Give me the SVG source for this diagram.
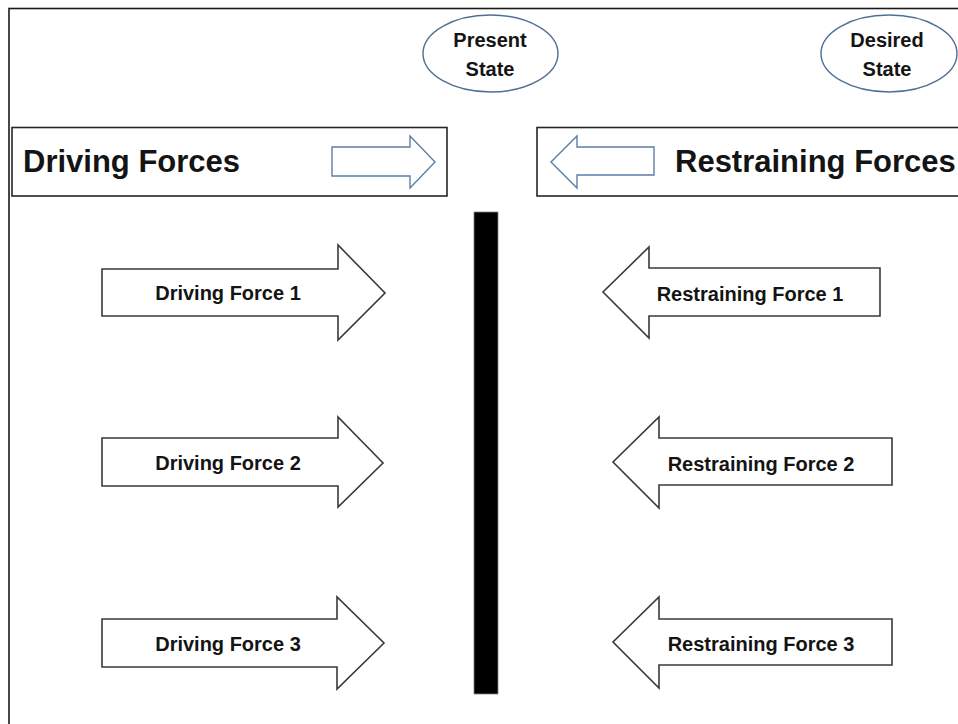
<svg xmlns="http://www.w3.org/2000/svg" width="958" height="724" viewBox="0 0 958 724">
  <style>
    .frame { fill: none; stroke: #1a1a1a; stroke-width: 1.6; }
    .box { fill: #ffffff; stroke: #262626; stroke-width: 1.6; }
    .state { fill: #ffffff; stroke: #4f6f94; stroke-width: 1.4; }
    .hint { fill: #ffffff; stroke: #5e7ea6; stroke-width: 1.4; stroke-linejoin: miter; }
    .force { fill: #ffffff; stroke: #3a3a3a; stroke-width: 1.6; stroke-linejoin: miter; }
    .bar { fill: #000000; stroke: #808080; stroke-width: 0.8; }
    text { font-family: "Liberation Sans", Arial, sans-serif; font-weight: bold; fill: #141414; }
    .head { font-size: 31px; }
    .lbl { font-size: 20px; text-anchor: middle; }
  </style>

  <rect width="958" height="724" fill="#ffffff"/>
  <!-- outer frame, open to the right and bottom -->
  <rect class="frame" x="9" y="8.5" width="1000" height="1000"/>

  <g id="present-state">
    <ellipse class="state" cx="490.5" cy="53.5" rx="67.5" ry="38.5"/>
    <text class="lbl" x="490" y="47">Present</text>
    <text class="lbl" x="490" y="76">State</text>
  </g>

  <g id="desired-state">
    <ellipse class="state" cx="889" cy="53.5" rx="68" ry="38.5"/>
    <text class="lbl" x="887" y="47">Desired</text>
    <text class="lbl" x="887" y="76">State</text>
  </g>

  <g id="driving-forces-header">
    <rect class="box" x="12" y="127.5" width="435" height="68.5"/>
    <text class="head" x="23" y="172">Driving Forces</text>
    <polygon class="hint" points="332,147 410,147 410,136 435,162 410,188 410,176 332,176"/>
  </g>

  <g id="restraining-forces-header">
    <rect class="box" x="537" y="127.5" width="480" height="68.5"/>
    <polygon class="hint" points="654,147 577,147 577,136 551,162 577,188 577,175 654,175"/>
    <text class="head" x="675" y="172">Restraining Forces</text>
  </g>

  <g id="boundary">
    <rect class="bar" x="474" y="212" width="24" height="482"/>
  </g>

  <g id="driving-force-1">
    <polygon class="force" points="102,269 338,269 338,245 385,293 338,340 338,316 102,316"/>
    <text class="lbl" x="228" y="300">Driving Force 1</text>
  </g>
  <g id="driving-force-2">
    <polygon class="force" points="102,438 338,438 338,417 383,463 338,507 338,486 102,486"/>
    <text class="lbl" x="228" y="470">Driving Force 2</text>
  </g>
  <g id="driving-force-3">
    <polygon class="force" points="102,619 337,619 337,597 384,643 337,689 337,667 102,667"/>
    <text class="lbl" x="228" y="651">Driving Force 3</text>
  </g>

  <g id="restraining-force-1">
    <polygon class="force" points="880,268 649,268 649,247 603,292 649,338 649,316 880,316"/>
    <text class="lbl" x="750" y="301">Restraining Force 1</text>
  </g>
  <g id="restraining-force-2">
    <polygon class="force" points="892,438 659,438 659,417 613,462 659,508 659,485 892,485"/>
    <text class="lbl" x="761" y="471">Restraining Force 2</text>
  </g>
  <g id="restraining-force-3">
    <polygon class="force" points="892,619 659,619 659,597 613,642 659,688 659,665 892,665"/>
    <text class="lbl" x="761" y="651">Restraining Force 3</text>
  </g>

  <g id="connectors"/>
</svg>
